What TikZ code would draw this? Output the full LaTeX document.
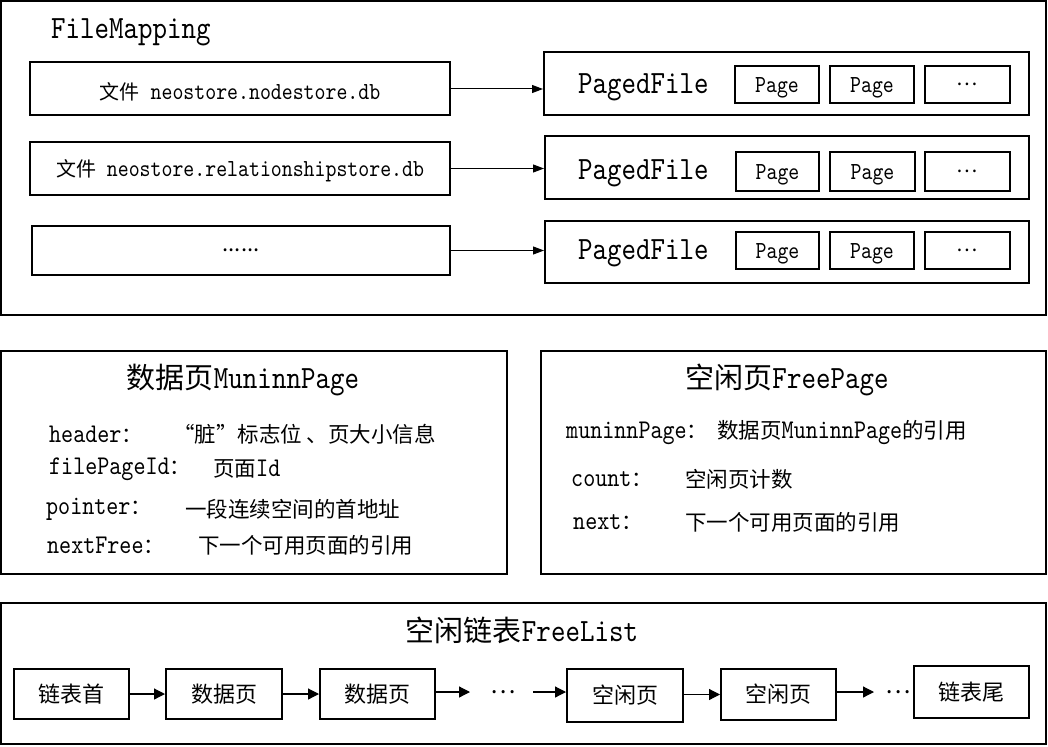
\documentclass[tikz,border=0pt]{standalone}
\usepackage{fontspec}
\setmainfont{lmmono10-regular.otf}[FakeStretch=0.85]
\newfontfamily\cjk{Noto Sans CJK SC}
\usetikzlibrary{arrows.meta}
\newcommand\cn[1]{{\cjk #1}}
\newcommand\fsz[1]{\fontsize{#1}{#1}\selectfont}
\newcommand\cnsz[2]{{\cjk\fontsize{#1}{#1}\selectfont #2}}
\newcommand\dn[2]{\raisebox{-#1pt}[\height][\depth]{#2}}
\begin{document}
\begin{tikzpicture}[x=1pt,y=-1pt,
  box/.style={draw, line width=2pt, inner sep=0pt},
  arr/.style={-{Triangle[length=11pt,width=8pt]}, line width=1pt},
  carr/.style={-{Triangle[length=11pt,width=11pt]}, line width=1.2pt},
  big/.style={font=\fsz{32.5}, inner sep=0pt},
  txt/.style={font=\fsz{27}, inner sep=0pt, anchor=west},
  mid/.style={font=\fsz{24.5}, inner sep=0pt},
]
\useasboundingbox (0,0) rectangle (1048,746);
\fill[white] (0,0) rectangle (1048,746);

% ---------- FileMapping ----------
\node[box, minimum width=1045, minimum height=314] (fm) at (523.5,158) {};
\node[big, anchor=west] (fmt) at (51,32) {FileMapping};

\node[box, minimum width=420, minimum height=53, mid] (f1) at (240,89) {\dn{2.5}{\cnsz{20}{文件} neostore.nodestore.db}};
\node[box, minimum width=420, minimum height=53, mid] (f2) at (240,168.5) {\dn{2.5}{\cnsz{20}{文件} neostore.relationshipstore.db}};
\node[box, minimum width=418, minimum height=49, inner sep=0pt] (f3) at (241,250.5) {\cnsz{22}{......}};

\node[box, minimum width=485, minimum height=63] (p1) at (786.5,83.5) {};
\node[box, minimum width=484, minimum height=63] (p2) at (787,167.5) {};
\node[box, minimum width=484, minimum height=62] (p3) at (787,252) {};

\node[big, anchor=west] (p1t) at (578,87) {PagedFile};
\node[big, anchor=west] (p2t) at (578,173) {PagedFile};
\node[big, anchor=west] (p3t) at (578,253) {PagedFile};

\node[box, minimum width=84, minimum height=37, mid] (g11) at (777,84.5) {\dn{3}{Page}};
\node[box, minimum width=84, minimum height=37, mid] (g12) at (872,84.5) {\dn{3}{Page}};
\node[box, minimum width=85, minimum height=37, mid] (g13) at (967.5,84.5) {\cnsz{20}{…}};
\node[box, minimum width=83, minimum height=39, mid] (g21) at (777.5,171.5) {\dn{3}{Page}};
\node[box, minimum width=85, minimum height=39, mid] (g22) at (872.5,171.5) {\dn{3}{Page}};
\node[box, minimum width=85, minimum height=39, mid] (g23) at (967.5,171.5) {\cnsz{20}{…}};
\node[box, minimum width=83, minimum height=37, mid] (g31) at (777.5,250.5) {\dn{3}{Page}};
\node[box, minimum width=84, minimum height=37, mid] (g32) at (872,250.5) {\dn{3}{Page}};
\node[box, minimum width=85, minimum height=37, mid] (g33) at (967.5,250.5) {\cnsz{20}{…}};

\draw[arr] (f1.east) -- (f1.east -| p1.west);
\draw[arr] (f2.east) -- (f2.east -| p2.west);
\draw[arr] (f3.east) -- (f3.east -| p3.west);

% ---------- MuninnPage ----------
\node[box, minimum width=506, minimum height=223] (mp) at (254,462.5) {};
\node[big] (mpt) at (243,380) {\cnsz{29}{数据页}MuninnPage};
\node[txt] (m1a) at (49,434) {header\cnsz{21}{：}};
\node[txt] (m1b) at (173,434) {\cnsz{21.5}{“脏”标志位 、页大小信息}};
\node[txt] (m2a) at (49,469) {filePageId\cnsz{21}{：}};
\node[txt] (m2b) at (213,469) {\cnsz{21.5}{页面}Id};
\node[txt] (m3a) at (46,509) {pointer\cnsz{21}{：}};
\node[txt] (m3b) at (185,509) {\cnsz{21.5}{一段连续空间的首地址}};
\node[txt] (m4a) at (47,545) {nextFree\cnsz{21}{：}};
\node[txt] (m4b) at (198,545) {\cnsz{21.5}{下一个可用页面的引用}};

% ---------- FreePage ----------
\node[box, minimum width=505, minimum height=223] (fp) at (793.5,462.5) {};
\node[big] (fpt) at (787,380) {\cnsz{29}{空闲页}FreePage};
\node[txt] (q1a) at (566,433) {muninnPage\cnsz{21}{：}};
\node[txt] (q1b) at (717,433) {\cnsz{21.5}{数据页}MuninnPage\cnsz{21.5}{的引用}};
\node[txt] (q2a) at (571,479) {count\cnsz{21}{：}};
\node[txt] (q2b) at (685,479) {\cnsz{21.5}{空闲页计数}};
\node[txt] (q3a) at (573,522) {next\cnsz{21}{：}};
\node[txt] (q3b) at (685,522) {\cnsz{21.5}{下一个可用页面的引用}};

% ---------- FreeList ----------
\node[box, minimum width=1045, minimum height=141] (fl) at (523.5,673.5) {};
\node[big] (flt) at (522,630) {\cnsz{29}{空闲链表}FreeList};

\node[box, minimum width=115, minimum height=50, mid] (c1) at (71.5,694) {\cnsz{22}{链表首}};
\node[box, minimum width=116, minimum height=50, mid] (c2) at (224,694) {\cnsz{22}{数据页}};
\node[box, minimum width=115, minimum height=50, mid] (c3) at (377.5,694) {\cnsz{22}{数据页}};
\node[box, minimum width=116, minimum height=53, mid] (c4) at (625,695.5) {\cnsz{22}{空闲页}};
\node[box, minimum width=115, minimum height=51, mid] (c5) at (778.5,694.5) {\cnsz{22}{空闲页}};
\node[box, minimum width=115, minimum height=52, mid] (c6) at (971.5,692) {\cnsz{22}{链表尾}};

\node[inner sep=0pt] (d1) at (503,692) {\cnsz{24}{…}};
\node[inner sep=0pt] (d2) at (898,692) {\cnsz{24}{…}};
\coordinate (a3e) at (470,692);
\coordinate (a4s) at (533,692);
\coordinate (a6e) at (874,692);

\draw[carr] (c1.east) -- (c1.east -| c2.west);
\draw[carr] (c2.east) -- (c2.east -| c3.west);
\draw[carr] (c3.east |- a3e) -- (a3e);
\draw[carr] (a4s) -- (a4s -| c4.west);
\draw[carr] (c4.east |- c5.west) -- (c5.west);
\draw[carr] (c5.east |- a6e) -- (a6e);
\end{tikzpicture}
\end{document}
